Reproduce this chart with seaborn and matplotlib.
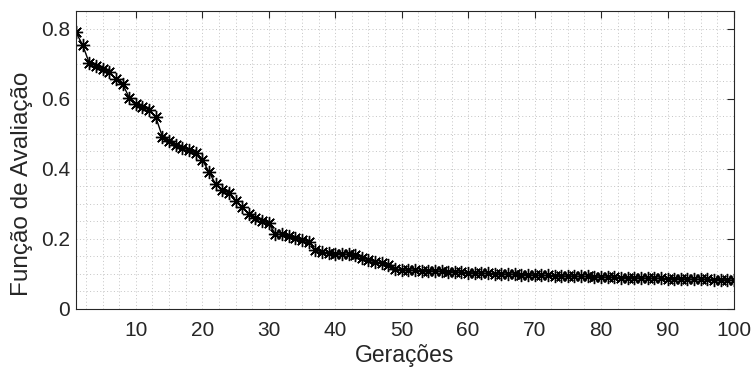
import numpy as np
import pandas as pd
import matplotlib
matplotlib.use("Agg")
import matplotlib.pyplot as plt
from matplotlib.ticker import MultipleLocator
import seaborn as sns

# Best evaluation value per generation
geracoes = list(range(1, 101))
avaliacao = [
    0.789, 0.753, 0.701, 0.693, 0.684, 0.677, 0.655, 0.642, 0.603, 0.585,
    0.575, 0.568, 0.547, 0.491, 0.480, 0.467, 0.460, 0.453, 0.444, 0.425,
    0.391, 0.356, 0.339, 0.330, 0.308, 0.290, 0.270, 0.260, 0.251, 0.244,
    0.213, 0.212, 0.207, 0.201, 0.196, 0.191, 0.168, 0.162, 0.158, 0.157,
    0.157, 0.155, 0.152, 0.146, 0.139, 0.134, 0.130, 0.125, 0.113, 0.111,
    0.110, 0.110, 0.109, 0.108, 0.108, 0.107, 0.106, 0.105, 0.104, 0.103,
    0.102, 0.101, 0.101, 0.100, 0.099, 0.099, 0.098, 0.097, 0.097, 0.096,
    0.095, 0.095, 0.094, 0.094, 0.093, 0.093, 0.092, 0.092, 0.091, 0.091,
    0.090, 0.090, 0.089, 0.089, 0.088, 0.088, 0.087, 0.087, 0.087, 0.086,
    0.086, 0.085, 0.085, 0.084, 0.084, 0.084, 0.083, 0.083, 0.082, 0.081,
]
x_ticks = [10, 20, 30, 40, 50, 60, 70, 80, 90, 100]
y_ticks = [0, 0.2, 0.4, 0.6, 0.8]

df = pd.DataFrame({"Gerações": geracoes, "Avaliação": avaliacao})

sns.set_style("white")
plt.rcParams["font.family"] = ["Liberation Sans", "DejaVu Sans"]

ink = "#262626"
fig = plt.figure(figsize=(7.52, 3.72), dpi=100)
ax = fig.add_axes([76 / 752, 1 - 308.7 / 372, (734 - 76) / 752, (308.7 - 11) / 372])

sns.lineplot(data=df, x="Gerações", y="Avaliação", ax=ax, color="black",
             linewidth=1.0, marker=(8, 2, 0), markersize=9.5,
             markeredgecolor="black", markeredgewidth=1.0)

ax.set_xlim(1, 100)
ax.set_ylim(0, 0.85)
ax.set_xticks(x_ticks)
ax.set_yticks(y_ticks)
ax.set_yticklabels(["0", "0.2", "0.4", "0.6", "0.8"])
ax.xaxis.set_minor_locator(MultipleLocator(2.5))
ax.yaxis.set_minor_locator(MultipleLocator(0.05))

ax.grid(True, which="both", color="#c4c4c4", linestyle=(0, (1, 2.5)), linewidth=0.7)
ax.set_axisbelow(True)

ax.tick_params(which="major", direction="in", length=5, width=0.8, colors=ink,
               labelsize=15, top=True, right=True)
ax.tick_params(axis="x", which="major", pad=9)
ax.tick_params(axis="y", which="major", pad=4.5)
ax.tick_params(which="minor", length=0, top=True, right=True)
for s in ax.spines.values():
    s.set_color(ink)
    s.set_linewidth(0.8)
    s.set_visible(True)

ax.set_xlabel("Gerações", fontsize=16.5, color=ink, labelpad=3)
ax.set_ylabel("Função de Avaliação", fontsize=17.5, color=ink)
ax.yaxis.set_label_coords(-0.066, 0.42)

fig.savefig("out.png", dpi=100)
